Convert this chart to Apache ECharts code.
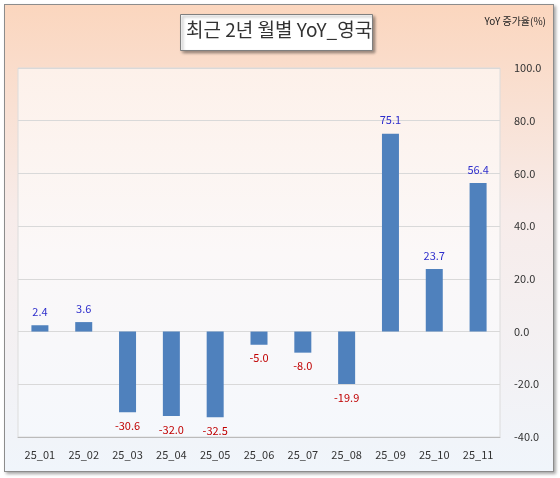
<!DOCTYPE html>
<html><head><meta charset="utf-8">
<script src="https://cdn.jsdelivr.net/npm/echarts@6/dist/echarts.min.js"></script>
<style>
html,body{margin:0;padding:0;background:#fff;}
#frame{position:absolute;left:4px;top:4px;width:548px;height:466px;border:1px solid #8c8c8c;
 background:linear-gradient(#fbd6be 0%,#f7ecea 45%,#f0f5fb 100%);box-shadow:2px 2px 3px rgba(0,0,0,.35);}
#chart{position:absolute;left:0;top:0;width:560px;height:478px;}
</style></head><body>
<div id="frame"></div>
<div id="chart"></div>
<script>
// 월별 YoY 증가율
const months = ['25_01','25_02','25_03','25_04','25_05','25_06','25_07','25_08','25_09','25_10','25_11'];
const yoy = [2.4, 3.6, -30.6, -32.0, -32.5, -5.0, -8.0, -19.9, 75.1, 23.7, 56.4];

const chart = echarts.init(document.getElementById('chart'));
chart.setOption({
  animation: false,
  textStyle: { fontFamily: '"Noto Sans CJK KR", sans-serif' },
  graphic: [{
    type: 'rect', left: 180, top: 14, shape: { width: 192, height: 36 },
    style: { fill: '#fff', stroke: '#7f7f7f', lineWidth: 1, shadowBlur: 3, shadowOffsetX: 2, shadowOffsetY: 2, shadowColor: 'rgba(0,0,0,0.4)' }
  }, {
    type: 'text', left: 186, top: 20,
    style: { text: '최근 2년 월별 YoY_영국', fontSize: 19, fill: '#333', fontFamily: '"Noto Sans CJK KR"' }
  }, {
    type: 'text', right: 14, top: 16,
    style: { text: 'YoY 증가율(%)', fontSize: 10, fill: '#222', fontFamily: '"Noto Sans CJK KR"' }
  }],
  grid: { left: 18, right: 60, top: 68, bottom: 41, show: true,
    backgroundColor: new echarts.graphic.LinearGradient(0, 0, 0, 1, [
      { offset: 0, color: '#fdf1ea' }, { offset: 0.5, color: '#fbf8f8' }, { offset: 1, color: '#f5f8fc' }]),
    borderColor: '#dcdcdc' },
  xAxis: {
    type: 'category', data: months,
    axisLine: { onZero: false, lineStyle: { color: '#bbb' } },
    axisTick: { show: false },
    axisLabel: { color: '#333', fontSize: 11, margin: 12 }
  },
  yAxis: {
    type: 'value', position: 'right', min: -40, max: 100, interval: 20,
    axisLabel: { color: '#333', fontSize: 11, margin: 14, formatter: v => v.toFixed(1) },
    splitLine: { lineStyle: { color: '#d9d9d9' } }
  },
  series: [{
    type: 'bar', barWidth: 17,
    itemStyle: { color: '#4f81bd' },
    label: { show: true, fontSize: 11, distance: 8, formatter: p => p.value.toFixed(1) },
    data: yoy.map(v => ({
      value: v,
      label: { position: v >= 0 ? 'top' : 'bottom', color: v >= 0 ? '#2e2ecc' : '#c00000' }
    }))
  }]
});
</script>
</body></html>
